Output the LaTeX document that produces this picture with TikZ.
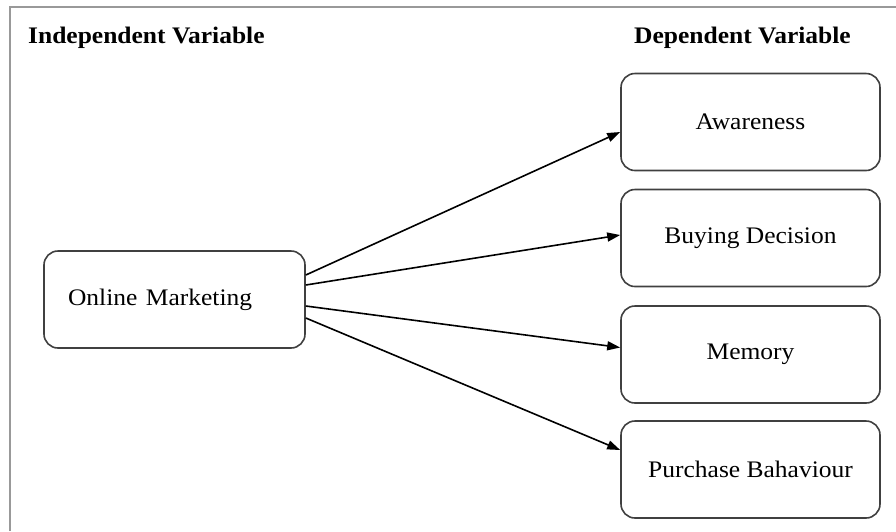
\documentclass[tikz,border=0pt]{standalone}
\usepackage{fontspec}
\setmainfont{Liberation Serif}
\usetikzlibrary{arrows.meta}
\newcommand{\sq}[1]{\scalebox{1}[0.93]{#1}}
\begin{document}
\begin{tikzpicture}[x=1pt,y=-1pt,
  box/.style={draw=black!75, line width=1.6pt, rounded corners=14pt, minimum width=259pt, minimum height=97pt, inner sep=0pt, font=\fontsize{25.5}{28}\selectfont, text=black},
  head/.style={font=\fontsize{25.5}{28}\selectfont\bfseries, anchor=base west, inner sep=0pt},
  arr/.style={line width=1.6pt, -{Triangle[length=13pt,width=9pt]}},
  frame/.style={draw=black!40, line width=1.5pt}]
\useasboundingbox (0,0) rectangle (896,531);
\draw[frame] (10,531) -- (10,7) -- (896,7);
\node[head] (iv) at (28,43) {\sq{Independent Variable}};
\node[head] (dv) at (634,43) {\sq{Dependent Variable}};
\node[box, minimum width=261pt, text width=213pt, align=left, inner xsep=24pt] (om) at (174.5,299.5) {\sq{Online Marketing}};
\node[box] (aw) at (750.5,122) {\sq{Awareness}};
\node[box] (bd) at (750.5,238) {\sq{Buying Decision}};
\node[box] (mem) at (750.5,354.5) {\sq{Memory}};
\node[box] (pb) at (750.5,469.5) {\sq{Purchase Bahaviour}};
\draw[arr] ([yshift=24.5pt]om.east) -- ([yshift=-10pt]aw.west);
\draw[arr] ([yshift=14.5pt]om.east) -- ([yshift=3pt]bd.west);
\draw[arr] ([yshift=-6.5pt]om.east) -- ([yshift=7pt]mem.west);
\draw[arr] ([yshift=-18.5pt]om.east) -- ([yshift=19.5pt]pb.west);
\end{tikzpicture}
\end{document}
